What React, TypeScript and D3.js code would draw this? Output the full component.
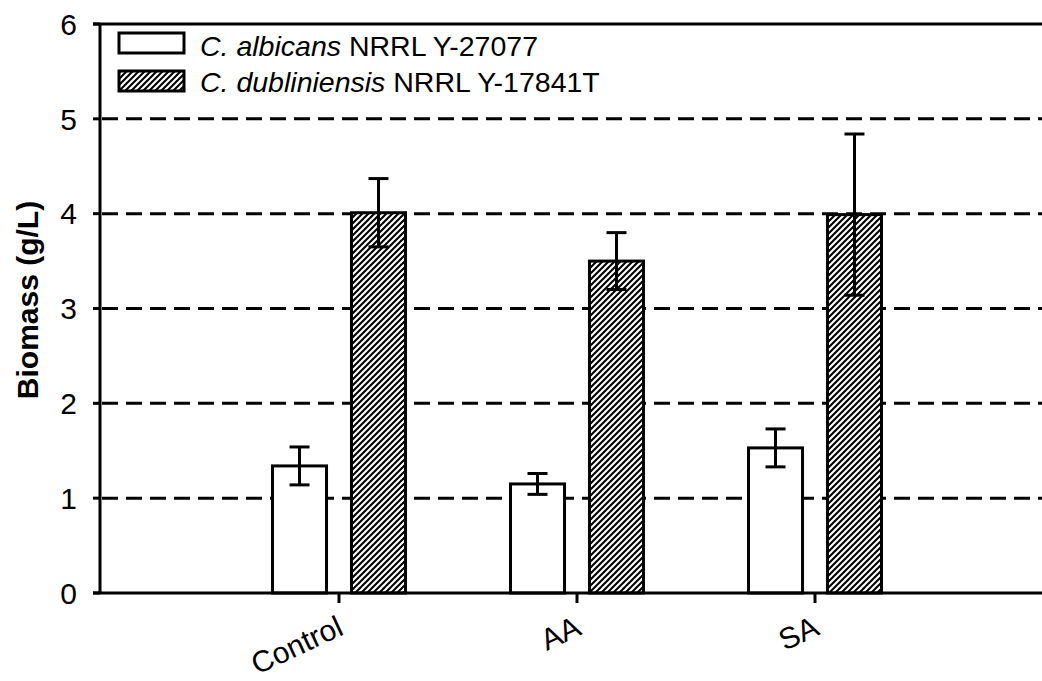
import React from "react";
import * as d3 from "d3";

const categories = ["Control", "AA", "SA"];
const seriesNames = ["C. albicans NRRL Y-27077", "C. dubliniensis NRRL Y-17841T"];
const legendItalic = ["C. albicans", "C. dubliniensis"];
const legendRest = [" NRRL Y-27077", " NRRL Y-17841T"];
const albicansMean = [1.34, 1.15, 1.53];
const albicansErr = [0.2, 0.11, 0.2];
const dublinMean = [4.01, 3.5, 3.99];
const dublinErr = [0.36, 0.3, 0.85];
const yTicks = [0, 1, 2, 3, 4, 5, 6];
const gridValues = [1, 2, 3, 4, 5];

const W = 1042;
const H = 681;
const FONT = "'Liberation Sans', Arial, Helvetica, sans-serif";

export default function App() {
  const left = 100;
  const top = 24;
  const bottom = 593;
  const right = 1053;

  const y = d3.scaleLinear().domain([0, 6]).range([bottom, top]);
  const x = d3.scalePoint<string>().domain(categories).range([101, 1053]).padding(1);
  const inner = d3.scaleBand<number>().domain([0, 1]).range([-66.5, 66.5]).paddingInner(0.316);

  const series = [
    { mean: albicansMean, err: albicansErr, fill: "#fff" },
    { mean: dublinMean, err: dublinErr, fill: "url(#hatch)" },
  ];

  return (
    <svg width={W} height={H} style={{ display: "block", position: "absolute", left: 0, top: 0, background: "#fff" }}>
      <defs>
        <pattern id="hatch" patternUnits="userSpaceOnUse" width={6} height={6}>
          <rect width={6} height={6} fill="#fff" />
          <path d="M-1,1 l2,-2 M0,6 l6,-6 M5,7 l2,-2" stroke="#000" strokeWidth={2.1} />
        </pattern>
      </defs>
      <rect width={W} height={H} fill="#fff" />

      {/* gridlines */}
      {gridValues.map((v) => (
        <line key={v} x1={left + 2} x2={right} y1={y(v)} y2={y(v)} stroke="#000" strokeWidth={3} strokeDasharray="16 8" />
      ))}

      {/* bars */}
      {series.map((s, si) =>
        categories.map((c, ci) => {
          const bx = (x(c) as number) + (inner(si) as number);
          const bw = inner.bandwidth();
          return (
            <rect key={`${si}-${ci}`} x={bx} y={y(s.mean[ci])} width={bw} height={y(0) - y(s.mean[ci])}
              fill={s.fill} stroke="#000" strokeWidth={3} />
          );
        })
      )}

      {/* error bars */}
      {series.map((s, si) =>
        categories.map((c, ci) => {
          const cx = (x(c) as number) + (inner(si) as number) + inner.bandwidth() / 2;
          const hi = y(s.mean[ci] + s.err[ci]);
          const lo = y(s.mean[ci] - s.err[ci]);
          return (
            <g key={`e${si}-${ci}`} stroke="#000" strokeWidth={3}>
              <line x1={cx} x2={cx} y1={hi} y2={lo} />
              <line x1={cx - 10} x2={cx + 10} y1={hi} y2={hi} />
              <line x1={cx - 10} x2={cx + 10} y1={lo} y2={lo} />
            </g>
          );
        })
      )}

      {/* axes */}
      <line x1={left} x2={left} y1={top} y2={bottom} stroke="#000" strokeWidth={3} />
      <line x1={left - 7} x2={right + 10} y1={top} y2={top} stroke="#000" strokeWidth={3} />
      <line x1={left - 7} x2={right + 10} y1={bottom} y2={bottom} stroke="#000" strokeWidth={3} />
      {yTicks.map((t) => (
        <g key={t}>
          <line x1={left - 7} x2={left} y1={y(t)} y2={y(t)} stroke="#000" strokeWidth={3} />
          <text x={77} y={y(t)} dy="0.36em" textAnchor="end" fontFamily={FONT} fontSize={30} fill="#000">{t}</text>
        </g>
      ))}
      {categories.map((c) => {
        const cx = x(c) as number;
        return (
          <g key={c}>
            <line x1={cx} x2={cx} y1={bottom} y2={bottom + 10} stroke="#000" strokeWidth={3} />
            <text transform={`translate(${cx + 6},${634}) rotate(-25)`} textAnchor="end" fontFamily={FONT} fontSize={30} fill="#000">{c}</text>
          </g>
        );
      })}

      {/* y title */}
      <text transform={`translate(38,300) rotate(-90)`} textAnchor="middle" fontFamily={FONT} fontSize={30} fontWeight="bold" fill="#000">Biomass (g/L)</text>

      {/* legend */}
      {seriesNames.map((n, i) => (
        <g key={n}>
          <rect x={119} y={33 + i * 38} width={65} height={20} fill={series[i].fill} stroke="#000" strokeWidth={3} />
          <text x={200} y={56 + i * 36} fontFamily={FONT} fontSize={28.5} fill="#000">
            <tspan fontStyle="italic">{legendItalic[i]}</tspan>
            <tspan>{legendRest[i]}</tspan>
          </text>
        </g>
      ))}
    </svg>
  );
}
